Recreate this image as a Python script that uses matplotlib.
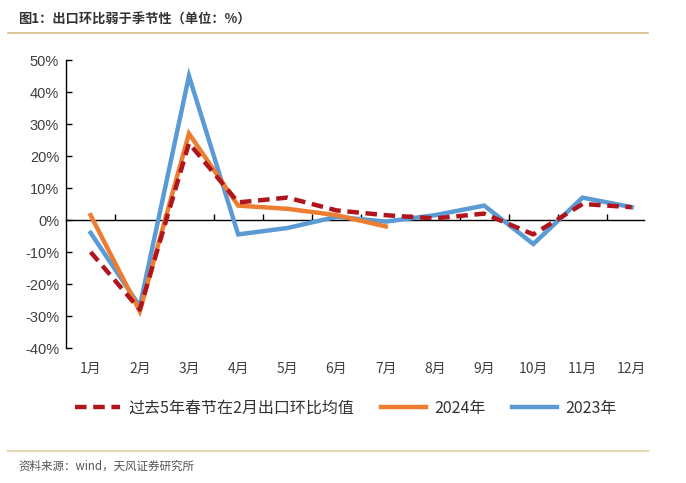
import matplotlib.pyplot as plt
from matplotlib.lines import Line2D

plt.rcParams['font.family'] = ['Liberation Sans', 'Noto Sans CJK SC', 'DejaVu Sans']

# Data (month-on-month export growth, %)
months = ['1月', '2月', '3月', '4月', '5月', '6月', '7月', '8月', '9月', '10月', '11月', '12月']
avg_5y = [-10, -28, 24, 5.5, 7, 3, 1.5, 0.5, 2, -4.5, 5, 4]
y2024 = [1.5, -28.5, 27, 4.5, 3.5, 1.5, -2]
y2023 = [-4, -27, 45, -4.5, -2.5, 1, -0.5, 1.5, 4.5, -7.5, 7, 4]
yticks = [50, 40, 30, 20, 10, 0, -10, -20, -30, -40]

c_avg = '#B0141C'
c_24 = '#ED7D31'
c_23 = '#5B9BD5'

fig = plt.figure(figsize=(6.86, 4.83), dpi=100)
ax = fig.add_axes([66 / 686, 1 - 348 / 483, (644 - 66) / 686, (348 - 60) / 483])

x = list(range(len(months)))
ax.plot(x, y2023, color=c_23, lw=3.2, solid_joinstyle='miter', zorder=3)
ax.plot(x[:len(y2024)], y2024, color=c_24, lw=3.2, solid_joinstyle='miter', zorder=4)
ax.plot(x, avg_5y, color=c_avg, lw=3.2, ls=(0, (2.6, 1.5)), zorder=5)

ax.set_xlim(-0.5, len(months) - 0.75)
ax.set_ylim(-40, 50)
ax.set_yticks(yticks)
ax.set_yticklabels([f'{v}%' for v in yticks])
ax.tick_params(axis='y', direction='in', length=4, width=1, labelsize=10.5,
               labelcolor='#404040', pad=5)

for s in ['top', 'right']:
    ax.spines[s].set_visible(False)
ax.spines['left'].set_linewidth(1)
ax.spines['bottom'].set_position(('data', 0))
ax.spines['bottom'].set_linewidth(1)

# tick marks between categories on the zero line
ax.set_xticks([i - 0.5 for i in range(1, len(months))])
ax.set_xticklabels([])
ax.tick_params(axis='x', direction='in', length=4, width=1)

# month labels at the bottom
sec = ax.secondary_xaxis('bottom')
sec.set_xticks(x)
sec.set_xticklabels(months, family=['Noto Sans CJK SC'])
sec.tick_params(length=0, labelsize=10, labelcolor='#404040', pad=10)
sec.spines['bottom'].set_visible(False)

handles = [
    Line2D([], [], color=c_avg, lw=3.2, ls=(0, (2.6, 1.5))),
    Line2D([], [], color=c_24, lw=3.2),
    Line2D([], [], color=c_23, lw=3.2),
]
labels = ['过去5年春节在2月出口环比均值', '2024年', '2023年']
fig.legend(handles, labels, loc='center', bbox_to_anchor=(346 / 686, 1 - 408 / 483),
           ncol=3, frameon=False, handlelength=2.8, handletextpad=0.5, columnspacing=1.7,
           prop={'family': ['Noto Sans CJK SC'], 'size': 11.5}, labelcolor='#333333')

fig.text(18 / 686, 1 - 20 / 483, '图1：出口环比弱于季节性（单位：%）', fontsize=9.5,
         fontweight='bold', family=['Noto Sans CJK SC'], color='#333333', va='center')
fig.add_artist(Line2D([8 / 686, 648 / 686], [1 - 33 / 483] * 2, color='#D6BF85', lw=1.2))
fig.add_artist(Line2D([8 / 686, 648 / 686], [1 - 451 / 483] * 2, color='#E6D7B5', lw=1.5))
fig.text(18 / 686, 1 - 466 / 483, '资料来源：wind，天风证券研究所', fontsize=8.3,
         family=['Noto Sans CJK SC'], color='#555555', va='center')

fig.savefig('out.png', dpi=100)
